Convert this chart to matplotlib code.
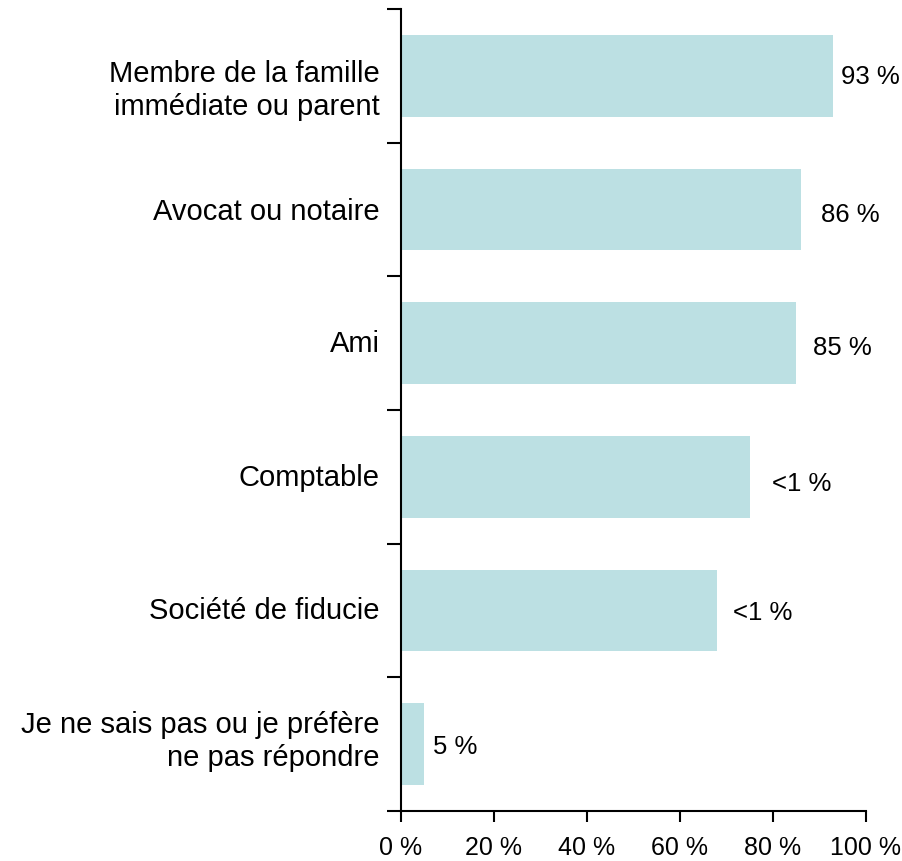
import matplotlib
matplotlib.use("Agg")
import matplotlib.pyplot as plt
import matplotlib.transforms as mtransforms

categories = ["Membre de la famille\nimmédiate ou parent", "Avocat ou notaire", "Ami",
              "Comptable", "Société de fiducie", "Je ne sais pas ou je préfère\nne pas répondre"]
values = [93, 86, 85, 75, 68, 5]
value_labels = ["93 %", "86 %", "85 %", "<1 %", "<1 %", "5 %"]
xticks = [0, 20, 40, 60, 80, 100]
xtick_labels = ["0 %", "20 %", "40 %", "60 %", "80 %", "100 %"]

label_gaps = [8, 20, 17, 22, 16, 9]      # px offsets of value labels
label_dy = [0, -5, -4, -6, -2, -2]
cat_dy = [-14, -1, 0, 0, 0, 4]

plt.rcParams['font.family'] = ['Liberation Sans', 'DejaVu Sans']
fig = plt.figure(figsize=(9.03, 8.62), dpi=100)
ax = fig.add_axes([401/903, 1-812/862, (866-401)/903, (812-10)/862])

n = len(categories)
ypos = list(range(n))
ax.barh(ypos, values, height=0.61, color="#bce0e3", zorder=2)
ax.set_ylim(n-0.5, -0.5)
ax.set_xlim(0, 100)

for y, v, lab, g, dy in zip(ypos, values, value_labels, label_gaps, label_dy):
    ax.annotate(lab, (v, y), xytext=(g, dy), textcoords="offset pixels",
                ha="left", va="center", fontsize=18.5, color="#000000")

trans = mtransforms.blended_transform_factory(ax.transAxes, ax.transData)
for y, cat, dy in zip(ypos, categories, cat_dy):
    ax.annotate(cat, (0, y), xycoords=trans, xytext=(-21, dy), textcoords="offset pixels",
                ha="right", va="center", multialignment="right", linespacing=1.22,
                fontsize=21, color="#000000", annotation_clip=False)

ax.set_xticks(xticks)
ax.set_xticklabels(xtick_labels, fontsize=18)
ax.set_yticks([i - 0.5 for i in range(n+1)])
ax.set_yticklabels([])
ax.tick_params(axis="y", length=10, width=1.5, direction="out")
ax.tick_params(axis="x", length=8, width=1.5, direction="out", pad=9)

for s in ["top", "right"]:
    ax.spines[s].set_visible(False)
for s in ["left", "bottom"]:
    ax.spines[s].set_linewidth(1.5)

fig.savefig("out.png", dpi=100)
